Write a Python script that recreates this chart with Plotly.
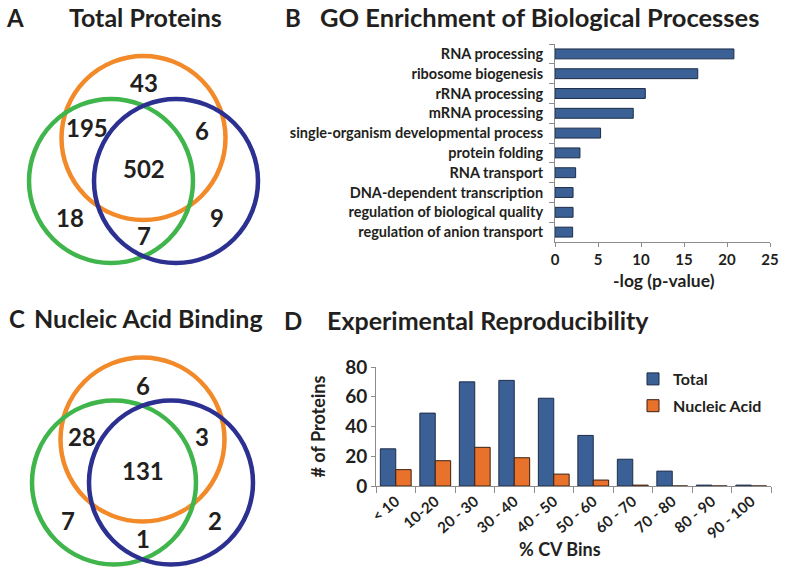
import plotly.graph_objects as go

W, H = 786, 575

# panel B: GO enrichment
go_terms = ["RNA processing", "ribosome biogenesis", "rRNA processing", "mRNA processing",
            "single-organism developmental process", "protein folding", "RNA transport",
            "DNA-dependent transcription", "regulation of biological quality",
            "regulation of anion transport"]
go_logp = [20.8, 16.6, 10.5, 9.1, 5.3, 2.9, 2.4, 2.1, 2.1, 2.05]

# panel D: CV bins
cv_bins = ["< 10", "10-20", "20 - 30", "30 - 40", "40 - 50", "50 - 60", "60 - 70",
           "70 - 80", "80 - 90", "90 - 100"]
cv_total = [25, 49, 70, 71, 59, 34, 18, 10, 0.6, 0.6]
cv_nucleic = [11, 17, 26, 19, 8, 4, 0.6, 0, 0, 0]

# venn counts (A: total proteins, C: nucleic acid binding)
venn_a = {"orange": 43, "orange_green": 195, "orange_blue": 6, "all": 502,
          "green": 18, "blue": 9, "green_blue": 7}
venn_c = {"orange": 6, "orange_green": 28, "orange_blue": 3, "all": 131,
          "green": 7, "blue": 2, "green_blue": 1}

BLUE_BAR = "#3B6096"
ORANGE_BAR = "#E8712B"
TXT = "#231f20"
FONT = "Lato"
C_OR, C_GR, C_BL = "#F28A2A", "#3FB54B", "#2B3091"


def px(x):
    return x / W


def py(y):
    return 1 - y / H


def bold(size):
    return dict(size=size, color=TXT, family=FONT, weight="bold")


fig = go.Figure()

fig.add_trace(go.Bar(x=go_logp, y=go_terms, orientation="h", width=0.5,
                     marker_color=BLUE_BAR, marker_line=dict(color="#1d2c48", width=1),
                     showlegend=False, xaxis="x", yaxis="y"))

fig.add_trace(go.Bar(x=cv_bins, y=cv_total, name="Total", legendgroup="t",
                     marker_color=BLUE_BAR, marker_line=dict(color="#1d2c48", width=1),
                     xaxis="x2", yaxis="y2"))
fig.add_trace(go.Bar(x=cv_bins, y=cv_nucleic, name="Nucleic Acid", legendgroup="n",
                     marker_color=ORANGE_BAR, marker_line=dict(color="#3a2010", width=1),
                     xaxis="x2", yaxis="y2"))

# venn layouts: (centre x, centre y) in pixels, plus label spots
venn_geo = {
    "A": {"circles": [((143.5, 138), C_OR), ((111, 181), C_GR), ((176, 181), C_BL)],
          "labels": {"orange": (144, 82), "orange_green": (87, 127), "orange_blue": (202, 130),
                     "all": (144, 168), "green": (70, 217), "blue": (217, 217),
                     "green_blue": (144, 235)}},
    "C": {"circles": [((142.5, 439.5), C_OR), ((114, 482.5), C_GR), ((171, 482.5), C_BL)],
          "labels": {"orange": (143, 385), "orange_green": (82, 436), "orange_blue": (202, 436),
                     "all": (143, 470), "green": (68, 520), "blue": (215, 520),
                     "green_blue": (143, 538)}},
}
R = 82
shapes = []
annotations = []


def label(text, x, y, size, xanchor="center"):
    annotations.append(dict(x=px(x), y=py(y), xref="paper", yref="paper", text=text,
                            xanchor=xanchor, yanchor="middle", showarrow=False,
                            font=bold(size)))


for key, counts in (("A", venn_a), ("C", venn_c)):
    g = venn_geo[key]
    for (cx, cy), col in g["circles"]:
        shapes.append(dict(type="circle", xref="paper", yref="paper",
                           x0=px(cx - R), x1=px(cx + R), y0=py(cy + R), y1=py(cy - R),
                           line=dict(color=col, width=4.5)))
    for region, val in counts.items():
        lx, ly = g["labels"][region]
        label(str(val), lx, ly, 24)

label("A", 15, 17, 24)
label("Total Proteins", 67, 17, 25, "left")
label("C", 17, 318, 24)
label("Nucleic Acid Binding", 32, 318, 25, "left")
label("B", 293, 17, 24)
label("GO Enrichment of Biological Processes", 318, 17, 25.5, "left")
label("D", 293, 320, 24)
label("Experimental Reproducibility", 325, 320, 25, "left")
label("-log (p-value)", 664, 280, 17.5)
label("% CV Bins", 560, 549, 18)

line = dict(showgrid=False, showline=True, linecolor="#8c8c8c", ticks="outside",
            tickcolor="#8c8c8c", automargin=False, zeroline=False)
fig.update_layout(
    width=W, height=H, margin=dict(l=0, r=0, t=0, b=0, autoexpand=False),
    paper_bgcolor="white", plot_bgcolor="white",
    font=dict(family=FONT, color=TXT),
    barmode="group", bargap=0.22, bargroupgap=0,
    shapes=shapes, annotations=annotations,
    xaxis=dict(domain=[px(555), px(770)], range=[0, 25], dtick=5, ticklen=4,
               tickfont=bold(15), anchor="y", **line),
    yaxis=dict(domain=[py(242), py(44)], autorange="reversed", tickson="boundaries",
               ticklen=5, anchor="x", tickfont=bold(14.5), ticklabelstandoff=8, **line),
    xaxis2=dict(domain=[px(376), px(771)], tickson="boundaries", ticklen=6, tickangle=-40,
                tickfont=bold(15), anchor="y2", **line),
    yaxis2=dict(domain=[py(486), py(367)], range=[0, 80], dtick=20, ticklen=4, anchor="x2",
                tickfont=bold(19), title=dict(text="# of Proteins", font=bold(18), standoff=14),
                **line),
    legend=dict(x=px(633), y=py(362), xanchor="left", yanchor="top",
                font=bold(16), bgcolor="rgba(0,0,0,0)", tracegroupgap=3),
)

fig.write_html("out.html", config={"displayModeBar": False},
               post_script="document.body.style.margin='0';")
